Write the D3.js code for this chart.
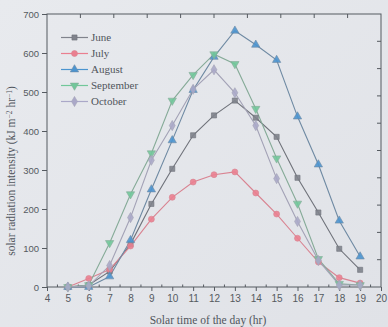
<!DOCTYPE html>
<html>
<head>
<meta charset="utf-8">
<script src="https://cdn.jsdelivr.net/npm/d3@7"></script>
<style>
  html, body { margin: 0; padding: 0; background: #e6e8ec; }
  svg { display: block; }
</style>
</head>
<body>
<svg id="chart" width="388" height="327"></svg>
<script>
// Hourly solar radiation intensity (kJ m^-2 hr^-1) by month
const hours = [5, 6, 7, 8, 9, 10, 11, 12, 13, 14, 15, 16, 17, 18, 19];
const june      = [0, 5, 40, 110, 213, 303, 389, 440, 478, 434, 385, 280, 191, 98, 44];
const july      = [0, 22, 45, 105, 174, 230, 269, 288, 295, 241, 187, 125, 64, 24, 10];
const august    = [0, 0, 27, 120, 250, 376, 505, 590, 657, 621, 582, 437, 314, 170, 78];
const september = [0, 5, 113, 238, 343, 478, 544, 597, 572, 457, 330, 214, 72, 8, 5];
const october   = [0, 3, 55, 178, 325, 414, 507, 557, 498, 414, 278, 168, 68, 5, 5];

const seriesNames = ["June", "July", "August", "September", "October"];
const xTicks = d3.range(4, 21);
const yTicks = [0, 100, 200, 300, 400, 500, 600, 700];

const series = [
  { name: "June",      values: june,      color: "#80838c", line: "#6f727a", symbol: d3.symbolSquare },
  { name: "July",      values: july,      color: "#ea7f90", line: "#d98391", symbol: d3.symbolCircle },
  { name: "August",    values: august,    color: "#4b94cf", line: "#6f8aa3", symbol: d3.symbolTriangle },
  { name: "September", values: september, color: "#71c79a", line: "#86ab98", symbol: "down" },
  { name: "October",   values: october,   color: "#aaa8c8", line: "#a3a2b6", symbol: d3.symbolDiamond }
];

const svg = d3.select("#chart");
const W = 388, H = 327;
const m = { left: 47, right: 5, top: 14, bottom: 40 };

// soft paper tone
const defs = svg.append("defs");
const grad = defs.append("linearGradient").attr("id", "paper")
  .attr("x1", "0").attr("y1", "0").attr("x2", "1").attr("y2", "1");
grad.append("stop").attr("offset", "0").attr("stop-color", "#e8eaee");
grad.append("stop").attr("offset", "1").attr("stop-color", "#e0e2e7");
svg.append("rect").attr("width", W).attr("height", H).attr("fill", "url(#paper)");

const x = d3.scaleLinear().domain([4, 20]).range([m.left, W - m.right - 2]);
const y = d3.scaleLinear().domain([0, 700]).range([H - m.bottom, m.top]);

const axisColor = "#555a60";
const g = svg.append("g");

// frame
g.append("rect")
  .attr("x", x(4)).attr("y", y(700))
  .attr("width", x(20) - x(4)).attr("height", y(0) - y(700))
  .attr("fill", "none").attr("stroke", axisColor).attr("stroke-width", 1);

// bottom axis
const xAxis = d3.axisBottom(x).tickValues(xTicks).tickSize(4).tickPadding(4).tickFormat(d3.format("d"));
const gx = g.append("g").attr("transform", `translate(0,${y(0)})`).call(xAxis);
gx.select(".domain").remove();
gx.selectAll("line").attr("stroke", axisColor);
gx.selectAll("text").attr("fill", "#555a60").style("font-family", "'Liberation Sans', Arial, sans-serif").style("font-size", "10px");
// minor ticks at half hours, pointing inward
g.append("g").selectAll("line").data(d3.range(4.5, 20, 1)).join("line")
  .attr("x1", d => x(d)).attr("x2", d => x(d))
  .attr("y1", y(0)).attr("y2", y(0) - 2.5)
  .attr("stroke", axisColor);

// left axis
const yAxis = d3.axisLeft(y).tickValues(yTicks).tickSize(5).tickPadding(3);
const gy = g.append("g").attr("transform", `translate(${x(4)},0)`).call(yAxis);
gy.select(".domain").remove();
gy.selectAll("line").attr("stroke", axisColor);
gy.selectAll("text").attr("fill", "#555a60").style("font-family", "'Liberation Sans', Arial, sans-serif").style("font-size", "9.5px");

// right and top ticks, pointing inward
const rightY = d3.scaleLinear().domain([0, 10]).range([y(0), y(700)]);
g.append("g").selectAll("line").data(d3.range(1, 10)).join("line")
  .attr("x1", x(20)).attr("x2", x(20) - 4)
  .attr("y1", d => rightY(d)).attr("y2", d => rightY(d))
  .attr("stroke", axisColor);
const topX = d3.scaleLinear().domain([0, 10]).range([x(4), x(20)]);
g.append("g").selectAll("line").data(d3.range(1, 10)).join("line")
  .attr("x1", d => topX(d)).attr("x2", d => topX(d))
  .attr("y1", y(700)).attr("y2", y(700) + 4)
  .attr("stroke", axisColor);

// symbols
const downTri = {
  draw(ctx, size) {
    const s = Math.sqrt(size / (Math.sqrt(3) / 4));
    const h = s * Math.sqrt(3) / 2;
    ctx.moveTo(-s / 2, -h / 3);
    ctx.lineTo(s / 2, -h / 3);
    ctx.lineTo(0, 2 * h / 3);
    ctx.closePath();
  }
};
function symPath(sym, size) {
  return d3.symbol().type(sym === "down" ? downTri : sym).size(size)();
}
const symSize = { June: 26, July: 28, August: 30, September: 30, October: 30 };

const line = d3.line().x(d => x(d[0])).y(d => y(d[1]));

series.forEach(s => {
  const pts = hours.map((h, i) => [h, s.values[i]]);
  g.append("path").datum(pts)
    .attr("d", line).attr("fill", "none")
    .attr("stroke", s.line).attr("stroke-width", 1.1);
});
series.forEach(s => {
  const pts = hours.map((h, i) => [h, s.values[i]]);
  g.append("g").selectAll("path").data(pts).join("path")
    .attr("transform", d => `translate(${x(d[0])},${y(d[1])})`)
    .attr("d", symPath(s.symbol, symSize[s.name]))
    .attr("fill", s.color).attr("fill-opacity", 0.9)
    .attr("stroke", s.line).attr("stroke-width", 0.6);
});

// legend
const lg = g.append("g");
series.forEach((s, i) => {
  const ly = 37.5 + i * 16;
  lg.append("line").attr("x1", 61).attr("x2", 88).attr("y1", ly).attr("y2", ly)
    .attr("stroke", s.color).attr("stroke-width", 1.2);
  lg.append("path").attr("transform", `translate(74.5,${ly})`)
    .attr("d", symPath(s.symbol, symSize[s.name]))
    .attr("fill", s.color).attr("stroke", s.line).attr("stroke-width", 0.6);
  lg.append("text").attr("x", 91).attr("y", ly + 3.8)
    .text(seriesNames[i])
    .attr("fill", "#50555c")
    .style("font-family", "'Liberation Serif', 'Times New Roman', serif")
    .style("font-size", "11px");
});

// axis titles
svg.append("text")
  .attr("x", 208).attr("y", 324)
  .attr("text-anchor", "middle")
  .attr("fill", "#50555c")
  .style("font-family", "'Liberation Serif', 'Times New Roman', serif")
  .style("font-size", "11.5px")
  .text("Solar time of the day (hr)");

const yt = svg.append("text")
  .attr("transform", `translate(15,${171}) rotate(-90)`)
  .attr("text-anchor", "middle")
  .attr("fill", "#50555c")
  .style("font-family", "'Liberation Serif', 'Times New Roman', serif")
  .style("font-size", "11.5px");
yt.append("tspan").text("solar radiation intensity (kJ m");
yt.append("tspan").attr("dy", -3.5).style("font-size", "7.5px").text("−2");
yt.append("tspan").attr("dy", 3.5).text(" hr");
yt.append("tspan").attr("dy", -3.5).style("font-size", "7.5px").text("−1");
yt.append("tspan").attr("dy", 3.5).text(")");
</script>
</body>
</html>
